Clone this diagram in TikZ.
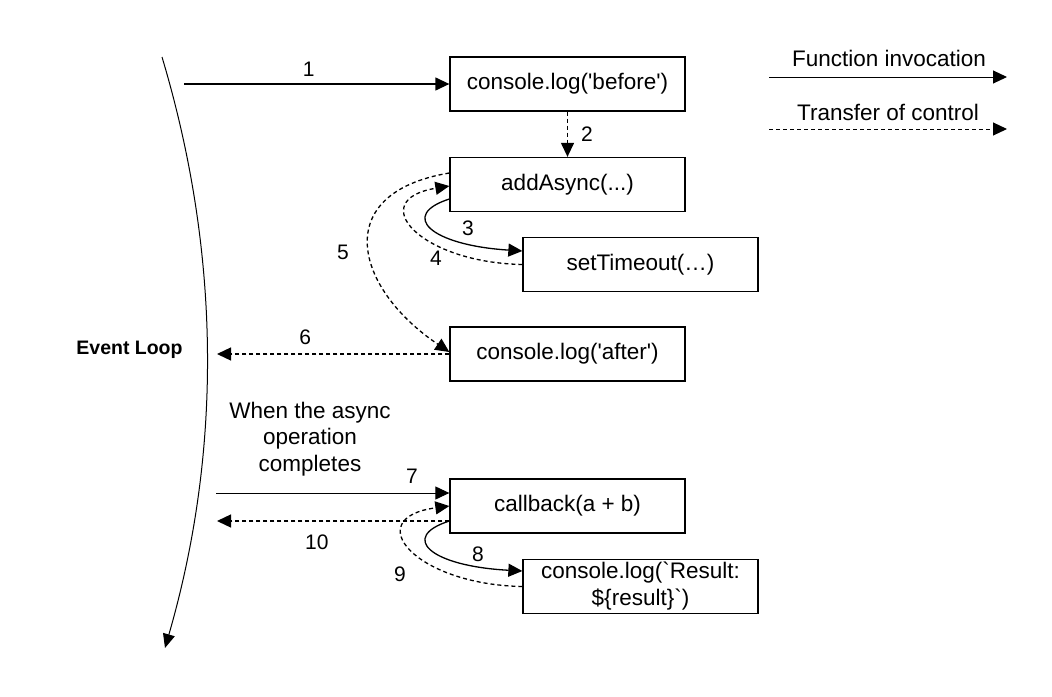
\documentclass[tikz,border=0pt]{standalone}
\usepackage{fontspec}
\setmainfont{Liberation Sans}[Ligatures=TeXOff]
\usetikzlibrary{arrows.meta, positioning}

\tikzset{
    fnbox/.style={draw, line width=1.3pt, minimum width=235pt, minimum height=54pt,
        inner sep=0pt, align=center, font=\fontsize{22.5}{27}\selectfont},
    lbl/.style={inner sep=1pt, font=\fontsize{22.5}{26.5}\selectfont},
    num/.style={inner sep=1pt, font=\fontsize{21}{26}\selectfont},
    call/.style={line width=1.3pt, -{Triangle[length=14pt,width=13pt]}},
    ctrl/.style={call, dash pattern=on 4pt off 3pt},
}

\begin{document}
\begin{tikzpicture}[x=1pt, y=-1pt]
    \useasboundingbox (0,0) rectangle (1052,696);

    % Event loop
    \coordinate (looptop) at (162,57);
    \coordinate (loopend) at (165,648);
    \draw [line width=1pt, -{Triangle[length=14pt,width=12pt]}] (looptop) .. controls (221,254) and (222,451) .. (loopend);
    \node[num, font=\fontsize{19.5}{24}\selectfont\bfseries] (eventloop) at (129.5,350) {Event Loop};

    \coordinate (loop1) at (184,84);
    \coordinate (loop6) at (217,354);
    \coordinate (loop7) at (216,493);
    \coordinate (loop10) at (217,521);

    % Functions
    \node[fnbox] (before) at (567.5,84) {console.log('before')};
    \node[fnbox] (addasync) at (567.5,184.5) {addAsync(...)};
    \node[fnbox] (settimeout) at (640.5,264.5) {setTimeout(…)};
    \node[fnbox] (after) at (567.5,354) {console.log('after')};
    \node[fnbox] (callback) at (567.5,506) {callback(a + b)};
    \node[fnbox] (result) at (640.5,586.5) {console.log(`Result:\\\$\{result\}`)};

    % First run
    \draw [call] (loop1) -- node[num, pos=0.47, above=6pt] {1} (before);
    \draw [ctrl] (before) -- node[num, right=12pt] {2} (addasync);
    \draw [call] ([yshift=-14.5pt]addasync.west) .. controls +(-50,16) and +(-93,-6) .. ([yshift=13.5pt]settimeout.west);
    \draw [ctrl] (settimeout.west) .. controls +(-103,-2) and +(-85,14) .. ([yshift=-1.5pt]addasync.west);
    \draw [ctrl] ([yshift=11.5pt]addasync.west) .. controls +(-120,20) and +(-95,-64) .. ([yshift=2pt]after.west);
    \draw [ctrl] (after) -- node[num, pos=0.62, above=8pt] {6} (loop6);
    \node[num] (n3) at (468,228) {3};
    \node[num] (n4) at (436,258) {4};
    \node[num] (n5) at (343,252) {5};

    % Async completion
    \node[lbl, align=center] (whendone) at (310,439) {When the async\\operation\\completes};
    \draw [call, line width=1pt] (loop7) -- node[num, pos=0.84, above=8pt] {7} ([yshift=13pt]callback.west);
    \draw [ctrl] ([yshift=-15pt]callback.west) -- node[num, pos=0.57, below=12pt] {10} (loop10);
    \draw [call] ([yshift=-15pt]callback.west) .. controls +(-50,16) and +(-93,-5) .. ([yshift=15.5pt]result.west);
    \draw [ctrl] (result.west) .. controls +(-108,-2) and +(-90,12) .. (callback.west);
    \node[num] (n8) at (478,554) {8};
    \node[num] (n9) at (400,574) {9};

    % Legend
    \coordinate (fnfrom) at (769,77);
    \coordinate (fnto) at (1007,77);
    \coordinate (ctrlfrom) at (769,129);
    \coordinate (ctrlto) at (1007,129);
    \draw [call, line width=1pt] (fnfrom) -- (fnto);
    \draw [ctrl, line width=1pt] (ctrlfrom) -- (ctrlto);
    \node[lbl] (fnkey) at (889,58) {Function invocation};
    \node[lbl] (ctrlkey) at (888,112) {Transfer of control};
\end{tikzpicture}
\end{document}
